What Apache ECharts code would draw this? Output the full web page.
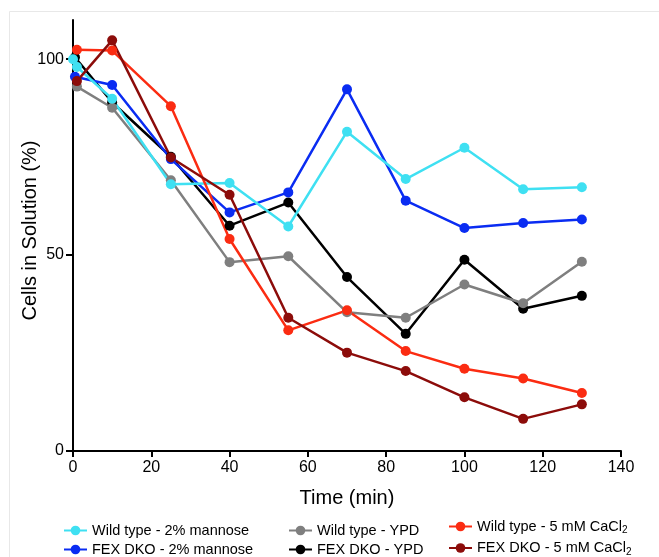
<!DOCTYPE html>
<html>
<head>
<meta charset="utf-8">
<script src="https://cdn.jsdelivr.net/npm/echarts@6/dist/echarts.min.js"></script>
<style>
  html, body { margin: 0; padding: 0; background: #fff; }
  #main { width: 659px; height: 557px; }
</style>
</head>
<body>
<div id="main"></div>
<script>
// values: [time (min), cells in solution (%)]
var wtMannose = [[0, 100], [1, 98], [10, 89.9], [25, 68.1], [40, 68.4], [55, 57.3], [70, 81.5], [85, 69.4], [100, 77.4], [115, 66.8], [130, 67.3]];
var dkoMannose = [[0.5, 95.5], [10, 93.4], [25, 74.5], [40, 60.9], [55, 66.0], [70, 92.3], [85, 63.9], [100, 56.9], [115, 58.2], [130, 59.1]];
var wtYpd = [[1, 93], [10, 87.6], [25, 69.1], [40, 48.2], [55, 49.7], [70, 35.4], [85, 34.0], [100, 42.5], [115, 37.7], [130, 48.3]];
var dkoYpd = [[0.5, 100.5], [10, 89], [25, 75.1], [40, 57.5], [55, 63.4], [70, 44.4], [85, 29.9], [100, 48.8], [115, 36.3], [130, 39.6]];
var wtCa = [[1, 102.4], [10, 102.2], [25, 88], [40, 54.1], [55, 30.8], [70, 35.9], [85, 25.5], [100, 21.0], [115, 18.5], [130, 14.8]];
var dkoCa = [[1, 94.4], [10, 104.8], [25, 74.9], [40, 65.4], [55, 34.0], [70, 25.1], [85, 20.4], [100, 13.7], [115, 8.2], [130, 11.9]];

var names = ['Wild type - 2% mannose', 'FEX DKO - 2% mannose', 'Wild type - YPD', 'FEX DKO - YPD', 'Wild type - 5 mM CaCl2', 'FEX DKO - 5 mM CaCl2'];
var yTicks = [0, 50, 100];

var font = 'Liberation Sans, Arial, Helvetica, sans-serif';

function mkSeries(name, data, color) {
  return {
    name: name,
    type: 'line',
    data: data,
    symbol: 'circle',
    symbolSize: 10,
    color: color,
    lineStyle: { width: 2.5, color: color },
    itemStyle: { color: color },
    emphasis: { disabled: true },
    animation: false
  };
}

function mkLegend(left, top, gap, data) {
  return {
    orient: 'vertical',
    left: left,
    top: top,
    data: data,
    itemWidth: 23,
    itemHeight: 12,
    itemGap: gap,
    padding: 0,
    selectedMode: false,
    textStyle: {
      fontFamily: font,
      fontSize: 14.5,
      color: '#000',
      rich: { sub: { fontFamily: font, fontSize: 10, color: '#000', padding: [8, 0, 0, 0] } }
    },
    formatter: function (n) { return n.replace('CaCl2', 'CaCl{sub|2}'); }
  };
}

var chart = echarts.init(document.getElementById('main'));
chart.setOption({
  backgroundColor: '#fff',
  animation: false,
  graphic: [{
    type: 'rect',
    shape: { x: 9.5, y: 11.5, width: 700, height: 600 },
    style: { fill: 'none', stroke: '#e8e8e8', lineWidth: 1 },
    silent: true
  }],
  grid: { left: 73, right: 38, top: 20, bottom: 106, outerBoundsMode: 'none' },
  xAxis: {
    type: 'value',
    min: 0,
    max: 140,
    interval: 20,
    name: 'Time (min)',
    nameLocation: 'middle',
    nameGap: 37,
    nameMoveOverlap: false,
    nameTextStyle: { fontFamily: font, fontSize: 20, color: '#000' },
    axisLine: { show: true, onZero: false, lineStyle: { color: '#000', width: 2 } },
    axisTick: { show: true, length: 6, lineStyle: { color: '#000', width: 2 } },
    axisLabel: { fontFamily: font, fontSize: 16, color: '#000', margin: 9 },
    splitLine: { show: false }
  },
  yAxis: {
    type: 'value',
    min: 0,
    max: 110,
    name: 'Cells in Solution (%)',
    nameLocation: 'middle',
    nameGap: 33,
    nameMoveOverlap: false,
    nameTextStyle: { fontFamily: font, fontSize: 20, color: '#000', padding: [0, 0, 0, 10] },
    axisLine: { show: true, onZero: false, lineStyle: { color: '#000', width: 2 } },
    axisTick: { show: true, length: 7, customValues: yTicks, lineStyle: { color: '#000', width: 2 } },
    axisLabel: { fontFamily: font, fontSize: 16, color: '#000', margin: 9, customValues: yTicks },
    splitLine: { show: false }
  },
  legend: [
    mkLegend(63, 523, 4, [names[0], names[1]]),
    mkLegend(288, 523, 4, [names[2], names[3]]),
    mkLegend(448, 519, 5, [names[4], names[5]])
  ],
  series: [
    mkSeries(names[3], dkoYpd, '#000000'),
    mkSeries(names[2], wtYpd, '#7f7f7f'),
    mkSeries(names[1], dkoMannose, '#0a2cf2'),
    mkSeries(names[0], wtMannose, '#3fe0f2'),
    mkSeries(names[4], wtCa, '#fb2c12'),
    mkSeries(names[5], dkoCa, '#8c0c0a')
  ]
});
</script>
</body>
</html>
